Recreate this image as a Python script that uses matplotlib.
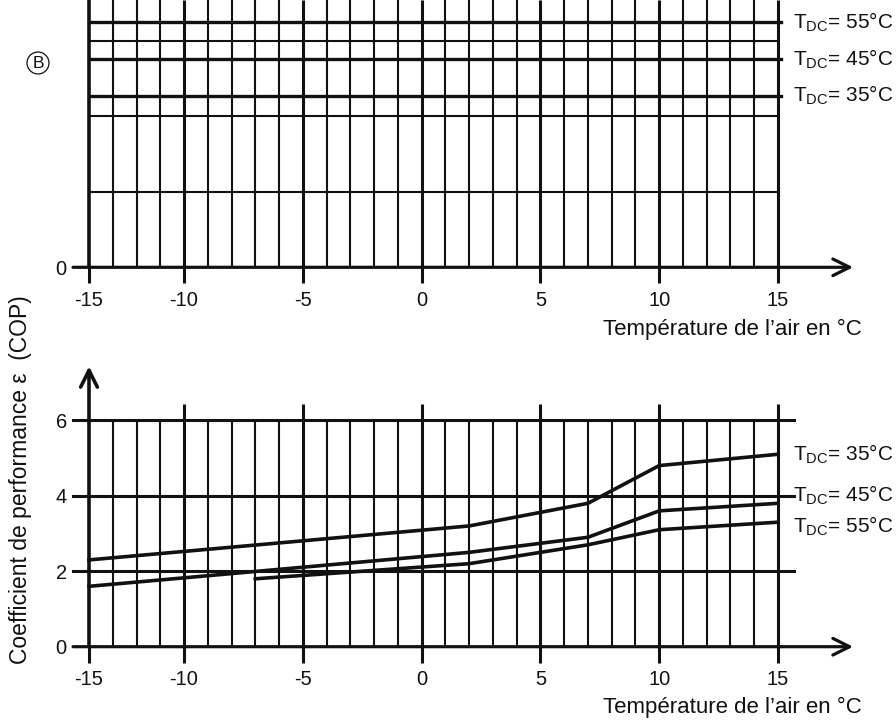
import numpy as np
import matplotlib.pyplot as plt

plt.rcParams['font.family'] = ['Liberation Sans', 'DejaVu Sans']
INK = '#111111'

# COP curves (air temperature in °C)
temps = [-15, 2, 7, 10, 15]
cop_35 = [2.3, 3.2, 3.8, 4.8, 5.1]
cop_45 = [1.6, 2.5, 2.9, 3.6, 3.8]
temps_55 = [-7, 2, 7, 10, 15]
cop_55 = [1.8, 2.2, 2.7, 3.1, 3.3]

# diagram B: constant levels for each flow temperature (scale cut off)
levels_b = [4.55, 5.52, 6.5]
flow_temps = ['35', '45', '55']
b_grid = [2, 4, 6]

x_ticks = [-15, -10, -5, 0, 5, 10, 15]
cop_ticks = [0, 2, 4, 6]


# the -15..-10 stretch is squeezed to 4 grid cells in the original
def fwd(x):
    x = np.asarray(x, dtype=float)
    return np.where(x < -10, -10 + (x + 10) * 0.8, x)


def inv(u):
    u = np.asarray(u, dtype=float)
    return np.where(u < -10, -10 + (u + 10) / 0.8, u)


grid_u = np.arange(-13, 15)
minor_x = inv(grid_u[grid_u % 5 != 0])
major_x = x_ticks[1:]

fig = plt.figure(figsize=(8.96, 7.2), dpi=100)
left, width = 89 / 896, 689 / 896
ax_b = fig.add_axes([left, 1 - 267.3 / 720, width, 267.3 / 720])
ax_c = fig.add_axes([left, 1 - 646.7 / 720, width, 226.4 / 720])


def setup(ax, ytop):
    ax.set_xscale('function', functions=(fwd, inv))
    ax.set_xlim(-15, 15)
    ax.set_ylim(0, ytop)
    for s in ax.spines.values():
        s.set_visible(False)
    ax.set_xticks(x_ticks, [str(t) for t in x_ticks])
    ax.tick_params(axis='x', direction='out', length=11.5, width=2.2,
                   pad=5.5, labelsize=14.5, color=INK, labelcolor=INK)
    ax.tick_params(axis='y', length=0, pad=16, labelsize=14.5, labelcolor=INK)
    # x axis with arrow
    ax.annotate('', xy=(1.109, 0), xytext=(-0.0232, 0), xycoords='axes fraction',
                arrowprops=dict(arrowstyle='->', lw=2.3, color=INK,
                                mutation_scale=30, shrinkA=0, shrinkB=0))


# ---- diagram B (top) ----
ytop_b = 267.3 / 37.75
setup(ax_b, ytop_b)
ax_b.set_yticks([0], ['0'])
ax_b.vlines(minor_x, 0, ytop_b, color=INK, lw=1.5)
ax_b.vlines(major_x, 0, ytop_b, color=INK, lw=2.2, clip_on=False)
ax_b.vlines(-15, 0, ytop_b, color=INK, lw=2.6, clip_on=False)
for g in b_grid:
    ax_b.axhline(g, xmin=0, xmax=1, color=INK, lw=1.5)
for lev, t in zip(levels_b, flow_temps):
    ax_b.axhline(lev, xmin=0, xmax=1.004, color=INK, lw=2.4, clip_on=False)
    ax_b.annotate(r'T$_{\mathregular{DC}}$= ' + t + '°C', xy=(15, lev),
                  xytext=(10.5, 0), textcoords='offset points', va='center',
                  ha='left', fontsize=15, color=INK, annotation_clip=False)
fig.text(38 / 896, 1 - 63 / 720, 'B', ha='center', va='center', fontsize=12.5, color=INK,
         bbox=dict(boxstyle='circle,pad=0.2', fc='white', ec=INK, lw=0.9))

# ---- COP diagram (bottom) ----
setup(ax_c, 6)
ax_c.set_yticks(cop_ticks, [str(t) for t in cop_ticks])
ax_c.vlines(minor_x, 0, 6, color=INK, lw=1.5)
ax_c.vlines(major_x, 0, 6.43, color=INK, lw=2.2, clip_on=False)
for g in cop_ticks[1:]:
    ax_c.axhline(g, xmin=-0.0232, xmax=1.0232, color=INK, lw=2.2, clip_on=False)
ax_c.annotate('', xy=(-15, 7.43), xytext=(-15, 0), xycoords='data',
              arrowprops=dict(arrowstyle='->', lw=2.6, color=INK,
                              mutation_scale=30, shrinkA=0, shrinkB=0),
              annotation_clip=False)

curves = [(temps, cop_35, 0), (temps, cop_45, 6), (temps_55, cop_55, -3)]
for (xs, ys, dy), t in zip(curves, flow_temps):
    ax_c.plot(xs, ys, color=INK, lw=2.6, solid_joinstyle='miter', clip_on=False)
    ax_c.annotate(r'T$_{\mathregular{DC}}$= ' + t + '°C', xy=(xs[-1], ys[-1]),
                  xytext=(10.5, dy), textcoords='offset points', va='center',
                  ha='left', fontsize=15, color=INK, annotation_clip=False)

for yb in (335, 713.3):
    fig.text(862 / 896, 1 - yb / 720, 'Température de l’air en °C',
             ha='right', va='baseline', fontsize=16, color=INK)
fig.text(21 / 896, 1 - 480 / 720, 'Coefficient de performance ε  (COP)',
         rotation=90, ha='center', va='center', fontsize=16.5, color=INK)

fig.savefig('out.png', dpi=100)
